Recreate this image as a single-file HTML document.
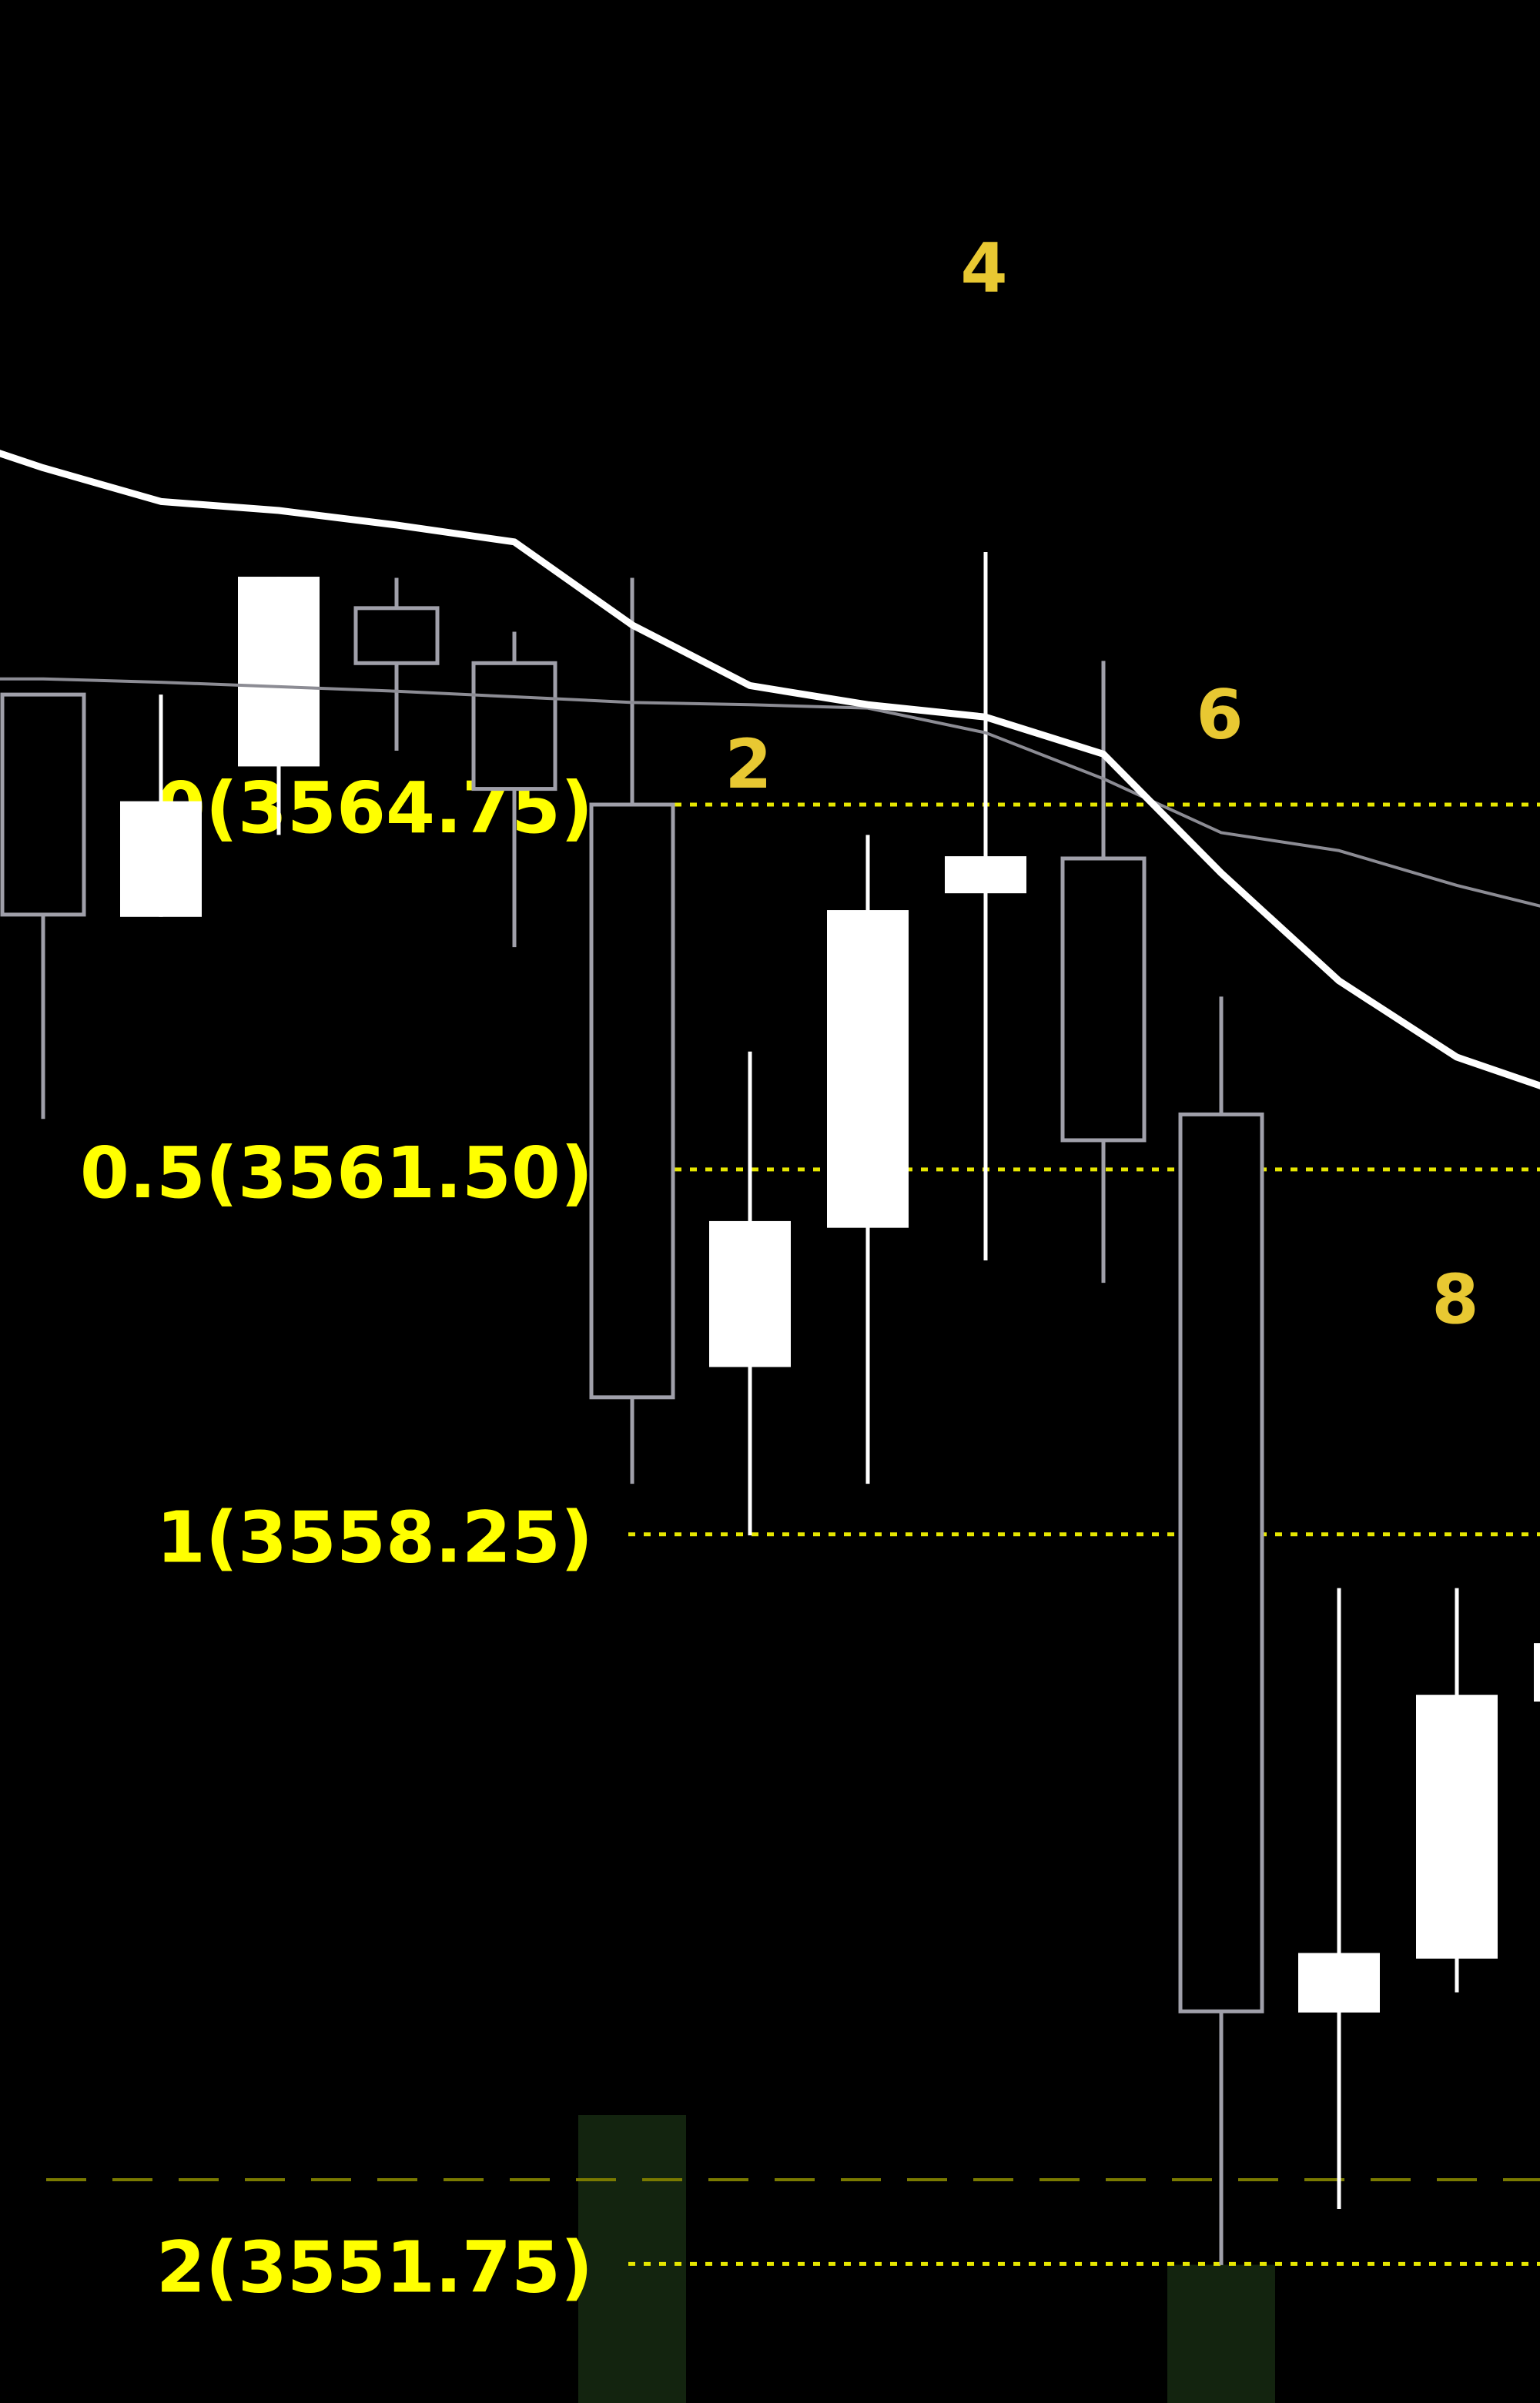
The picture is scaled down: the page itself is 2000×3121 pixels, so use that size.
<!DOCTYPE html>
<html><head><meta charset="utf-8"><title>Candlestick Fibonacci chart</title>
<style>html,body{margin:0;padding:0;background:#000;width:2000px;height:3121px;overflow:hidden}svg{display:block}</style>
</head><body>
<svg id="chart" width="2000" height="3121" viewBox="0 0 2000 3121" xmlns="http://www.w3.org/2000/svg">
<rect x="0" y="0" width="2000" height="3121" fill="#000"/>
<g id="vol"></g>
<g id="levels"></g>
<g id="candles"></g>
<g id="mas"></g>
<g id="labels"></g>
</svg>
<script>
const opens  = [3565.73,3563.75,3565.09,3566.50,3566.01,3564.75,3559.74,3560.98,3563.96,3564.27,3561.99,3553.99,3554.47,3556.76];
const highs  = [3565.73,3565.73,3566.78,3566.77,3566.29,3566.77,3562.55,3564.48,3567.00,3566.03,3563.04,3557.77,3557.77,3557.77];
const lows   = [3561.95,3563.75,3564.48,3565.23,3563.48,3558.70,3558.24,3558.70,3560.69,3560.49,3551.74,3552.24,3554.17,3556.50];
const closes = [3563.77,3564.78,3566.78,3566.01,3564.89,3559.47,3561.04,3563.81,3564.29,3561.76,3554.00,3554.52,3556.82,3557.28];
const maFast = [3568.10,3567.75,3567.45,3567.37,3567.24,3567.09,3566.35,3565.81,3565.64,3565.53,3565.20,3564.14,3563.18,3562.50,3562.14];
const maSlow = [3565.87,3565.87,3565.84,3565.80,3565.76,3565.71,3565.66,3565.64,3565.61,3565.39,3564.98,3564.50,3564.34,3564.03,3563.77];
const fibRatios = ["0","0.5","1","2"];
const fibPrices = [3564.75,3561.50,3558.25,3551.75];
const waveLabels = ["2","4","6","8"];
const waveIdx = [6,8,10,12];
const wavePrices = [3564.90,3569.32,3565.34,3560.13];
const volIdx = [5,10];
const volValues = [1.0,0.48];
const dashPrice = 3552.50;

const NS="http://www.w3.org/2000/svg";
function py(p){return 1045+(3564.75-p)*145.8;}
function px(i){return 56+i*153;}
function mk(tag,attrs,parent){const e=document.createElementNS(NS,tag);for(const k in attrs)e.setAttribute(k,attrs[k]);parent.appendChild(e);return e;}
const gV=document.getElementById('vol'),gL=document.getElementById('levels'),gC=document.getElementById('candles'),gM=document.getElementById('mas'),gT=document.getElementById('labels');

volIdx.forEach((vi,k)=>{const h=374*volValues[k];
 const r=mk('rect',{x:px(vi)-70,y:3121-h,width:140,height:h,fill:'#13240f'},gV);
 
 });

const dl=mk('line',{x1:60,x2:2000,y1:py(dashPrice),y2:py(dashPrice),stroke:'#7a7a00','stroke-width':4,'stroke-dasharray':'52 34'},gL);



fibPrices.forEach((p,k)=>{const y=py(p);
 const l=mk('line',{x1:816,x2:2000,y1:y,y2:y,stroke:'#e6e600','stroke-width':5,'stroke-dasharray':'9 11'},gL);
 
 
 const t=mk('text',{x:770,y:y+36,'text-anchor':'end',fill:'#ffff00','font-family':'"DejaVu Sans","Liberation Sans",sans-serif','font-weight':'bold','font-size':92},gL);
 t.textContent=fibRatios[k]+'('+p.toFixed(2)+')';
 
 });

opens.forEach((o,i)=>{const c=closes[i],x=px(i),bull=c>o;
 const col=bull?'#ffffff':'#a0a0aa';
 const w=mk('line',{x1:x,x2:x,y1:py(highs[i]),y2:py(lows[i]),stroke:col,'stroke-width':5},gC);
 
 
 const top=py(Math.max(o,c)),bot=py(Math.min(o,c));
 const b=mk('rect',{x:x-53,y:top,width:106,height:Math.max(bot-top,3),fill:bull?'#ffffff':'#000',stroke:col,'stroke-width':bull?0:5},gC);
 
 });

function line(arr,col,w,name){const pts=arr.map((v,k)=>px(k-1)+','+py(v)).join(' ');
 const pl=mk('polyline',{points:pts,fill:'none',stroke:col,'stroke-width':w,'stroke-linejoin':'round'},gM);
 
 }
line(maSlow,'#8c8c94',4,'slow-moving-average');
line(maFast,'#ffffff',9,'fast-moving-average');

waveLabels.forEach((s,k)=>{
 const t=mk('text',{x:px(waveIdx[k])-2,y:py(wavePrices[k]),'text-anchor':'middle',fill:'#e8c832','font-family':'"DejaVu Sans","Liberation Sans",sans-serif','font-weight':'bold','font-size':88},gT);
 t.textContent=s;
 
 });
</script>
</body></html>
